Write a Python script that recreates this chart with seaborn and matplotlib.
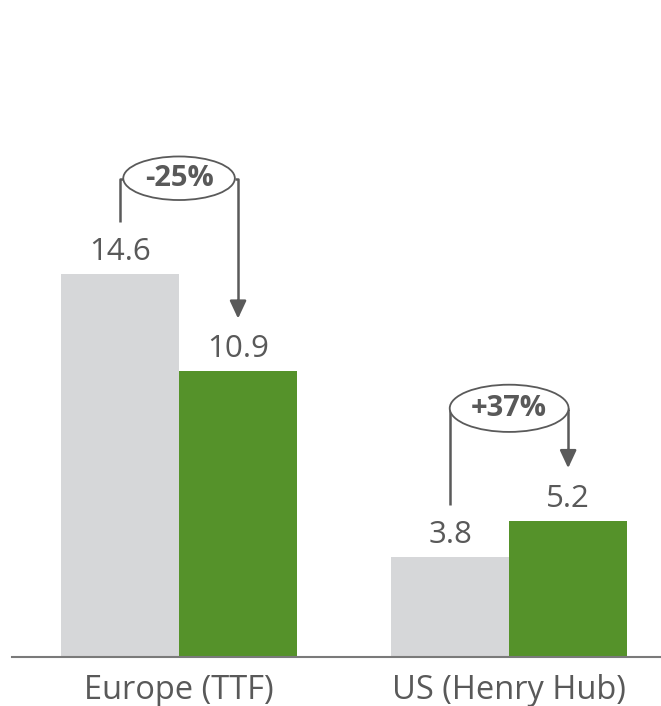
import matplotlib
matplotlib.use("Agg")
import matplotlib.pyplot as plt
from matplotlib.patches import Ellipse
import seaborn as sns
import pandas as pd

# Data
categories = ["Europe (TTF)", "US (Henry Hub)"]
series = ["Before", "After"]
before_values = [14.6, 3.8]
after_values = [10.9, 5.2]
change_labels = ["-25%", "+37%"]

df = pd.DataFrame({
    "region": categories * 2,
    "period": [series[0]] * 2 + [series[1]] * 2,
    "value": before_values + after_values,
})

sns.set_theme(style="white")
plt.rcParams["font.family"] = ["Open Sans", "DejaVu Sans"]

GRAY = "#d6d7d9"
GREEN = "#55922a"
TXT = "#595959"

fig = plt.figure(figsize=(6.61, 7.06), dpi=100)
ax = fig.add_axes([12 / 661, 49 / 706, (661 - 12) / 661, 657 / 706])

sns.barplot(data=df, x="region", y="value", hue="period", order=categories,
            hue_order=series, palette=[GRAY, GREEN], width=0.715, gap=0,
            saturation=1, legend=False, ax=ax, edgecolor="none")

ax.set_xlim(-0.5 - 2 / 330, 1.46)
ax.set_ylim(0, 657 / (383 / 14.6))

for s in ["top", "right", "left"]:
    ax.spines[s].set_visible(False)
ax.spines["bottom"].set_color("#7a7a7a")
ax.spines["bottom"].set_linewidth(1.5)
ax.set_yticks([])
ax.set_xlabel("")
ax.set_ylabel("")
ax.tick_params(axis="x", length=0, pad=12, labelsize=23.5, labelcolor=TXT)

# bar centres from the drawn patches
patches = sorted(ax.patches, key=lambda p: p.get_x())
centers = [p.get_x() + p.get_width() / 2 for p in patches]
pairs = [(centers[0], centers[1]), (centers[2], centers[3])]

for (xb, xa), vb, va_ in zip(pairs, before_values, after_values):
    ax.text(xb, vb + 0.53, f"{vb:.1f}", ha="center", va="baseline",
            fontsize=22.5, color=TXT)
    ax.text(xa, va_ + 0.53, f"{va_:.1f}", ha="center", va="baseline",
            fontsize=22.5, color=TXT)

bracket_tops = [18.22, 9.45]
ell_w = [0.338, 0.36]
ell_h = [1.66, 1.8]
LC = "#5a5a5a"
for (xb, xa), vb, va_, top, lab, ew, eh in zip(pairs, before_values, after_values,
                                                bracket_tops, change_labels, ell_w, ell_h):
    xm = (xb + xa) / 2
    ax.plot([xb, xb, xm - ew / 2], [vb + 1.98, top, top], color=LC, lw=1.8,
            solid_capstyle="butt", clip_on=False)
    ax.plot([xm + ew / 2, xa, xa], [top, top, va_ + 2.6], color=LC, lw=1.8,
            solid_capstyle="butt", clip_on=False)
    ax.annotate("", xy=(xa, va_ + 2.0), xytext=(xa, va_ + 2.7),
                arrowprops=dict(arrowstyle="-|>,head_length=0.9,head_width=0.42",
                                color=LC, lw=1.8, shrinkA=0, shrinkB=0))
    ax.add_patch(Ellipse((xm, top + 0.03), ew, eh, facecolor="white",
                         edgecolor=LC, lw=1.3, zorder=5))
    ax.text(xm, top + 0.03, lab, ha="center", va="center", fontsize=21,
            fontweight="bold", color=TXT, zorder=6)

fig.savefig("out.png", dpi=100)
